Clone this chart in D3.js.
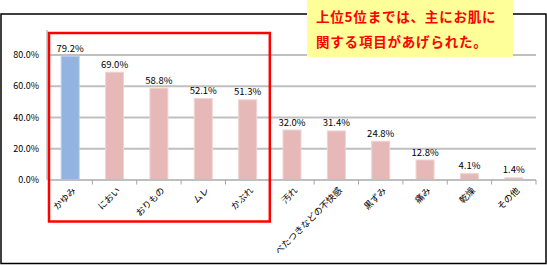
<!DOCTYPE html>
<html>
<head>
<meta charset="utf-8">
<script src="https://cdn.jsdelivr.net/npm/d3@7"></script>
<style>
  body { margin: 0; background: #fff; }
  text { font-family: "Noto Sans CJK JP", "DejaVu Sans", sans-serif; }
</style>
</head>
<body>
<div id="chart"></div>
<script>
// data
var categories = ["かゆみ", "におい", "おりもの", "ムレ", "かぶれ", "汚れ",
                  "べたつきなどの不快感", "黒ずみ", "痛み", "乾燥", "その他"];
var values = [79.2, 69.0, 58.8, 52.1, 51.3, 32.0, 31.4, 24.8, 12.8, 4.1, 1.4];
var yTicks = [0, 20, 40, 60, 80];
var highlightCount = 5;
var noteLines = ["上位5位までは、主にお肌に", "関する項目があげられた。"];

var width = 547, height = 265;
var plot = {left: 48, right: 536, top: 30, bottom: 180};

var svg = d3.select("#chart").append("svg")
    .attr("width", width)
    .attr("height", height);

svg.append("rect").attr("width", width).attr("height", height).attr("fill", "#fff");

// outer frame
svg.append("rect")
    .attr("x", 1).attr("y", 14)
    .attr("width", 545).attr("height", 249.5)
    .attr("fill", "none")
    .attr("stroke", "#000")
    .attr("stroke-width", 1.5);

var x = d3.scaleBand()
    .domain(categories)
    .range([plot.left, plot.right]);

var y = d3.scaleLinear()
    .domain([0, 96])
    .range([plot.bottom, plot.top]);

//gridlines
svg.selectAll(".grid")
    .data(yTicks.filter(function(d){ return d > 0; }))
    .enter().append("line")
    .attr("x1", plot.left).attr("x2", plot.right)
    .attr("y1", function(d){ return y(d); })
    .attr("y2", function(d){ return y(d); })
    .attr("stroke", "#bfbfbf")
    .attr("stroke-width", 2);

// y axis line
svg.append("line")
    .attr("x1", plot.left - 1).attr("x2", plot.left - 1)
    .attr("y1", plot.top).attr("y2", plot.bottom)
    .attr("stroke", "#bfbfbf")
    .attr("stroke-width", 1.5);

svg.selectAll(".ylab")
    .data(yTicks)
    .enter().append("text")
    .attr("x", 39)
    .attr("y", function(d){ return y(d); })
    .attr("dy", "0.35em")
    .attr("text-anchor", "end")
    .attr("font-size", 9)
    .attr("fill", "#000")
    .text(function(d){ return d.toFixed(1) + "%"; });

// bars
svg.selectAll(".bar")
    .data(values)
    .enter().append("rect")
    .attr("x", function(d, i){ return x(categories[i]) + x.bandwidth()/2 - 9; })
    .attr("y", function(d){ return y(d); })
    .attr("width", 18)
    .attr("height", function(d){ return plot.bottom - y(d); })
    .attr("fill", function(d, i){ return i == 0 ? "#93b4e0" : "#e6b9b8"; })
    .attr("stroke", function(d, i){ return i == 0 ? "#b7cdea" : "#f0d3d2"; })
    .attr("stroke-width", 1);

svg.selectAll(".vlab")
    .data(values)
    .enter().append("text")
    .attr("x", function(d, i){ return x(categories[i]) + x.bandwidth()/2; })
    .attr("y", function(d){ return y(d) - 4.5; })
    .attr("text-anchor", "middle")
    .attr("font-size", 9.5)
    .attr("fill", "#000")
    .text(function(d){ return d.toFixed(1) + "%"; });

// category axis
svg.append("line")
    .attr("x1", plot.left).attr("x2", plot.right)
    .attr("y1", plot.bottom).attr("y2", plot.bottom)
    .attr("stroke", "#bfbfbf")
    .attr("stroke-width", 2);

svg.selectAll(".tick")
    .data(categories)
    .enter().append("line")
    .attr("x1", function(d){ return x(d) + x.bandwidth(); })
    .attr("x2", function(d){ return x(d) + x.bandwidth(); })
    .attr("y1", plot.bottom).attr("y2", plot.bottom + 4.5)
    .attr("stroke", "#a6a6a6")
    .attr("stroke-width", 1);

svg.selectAll(".xlab")
    .data(categories)
    .enter().append("text")
    .attr("transform", function(d){
        return "translate(" + (x(d) + x.bandwidth()/2 + 4) + "," + (plot.bottom + 9) + ") rotate(-45)";
    })
    .attr("text-anchor", "end")
    .attr("dy", "0.35em")
    .attr("font-size", 9)
    .attr("fill", "#000")
    .text(function(d){ return d; });

// red highlight box around the top 5
svg.append("rect")
    .attr("x", x(categories[0]) + 1)
    .attr("y", 33)
    .attr("width", x(categories[highlightCount - 1]) + x.bandwidth() - x(categories[0]) - 1)
    .attr("height", 188.5)
    .attr("fill", "none")
    .attr("stroke", "#ff0000")
    .attr("stroke-width", 2.5);

// note box
svg.append("rect")
    .attr("x", 307).attr("y", 0)
    .attr("width", 206).attr("height", 57)
    .attr("fill", "#ffff99");

svg.selectAll(".note")
    .data(noteLines)
    .enter().append("text")
    .attr("x", 316)
    .attr("y", function(d, i){ return 22 + i * 25; })
    .attr("font-size", 13.5)
    .attr("font-weight", "bold")
    .attr("letter-spacing", 0.8)
    .attr("fill", "#ff0000")
    .text(function(d){ return d; });
</script>
</body>
</html>
